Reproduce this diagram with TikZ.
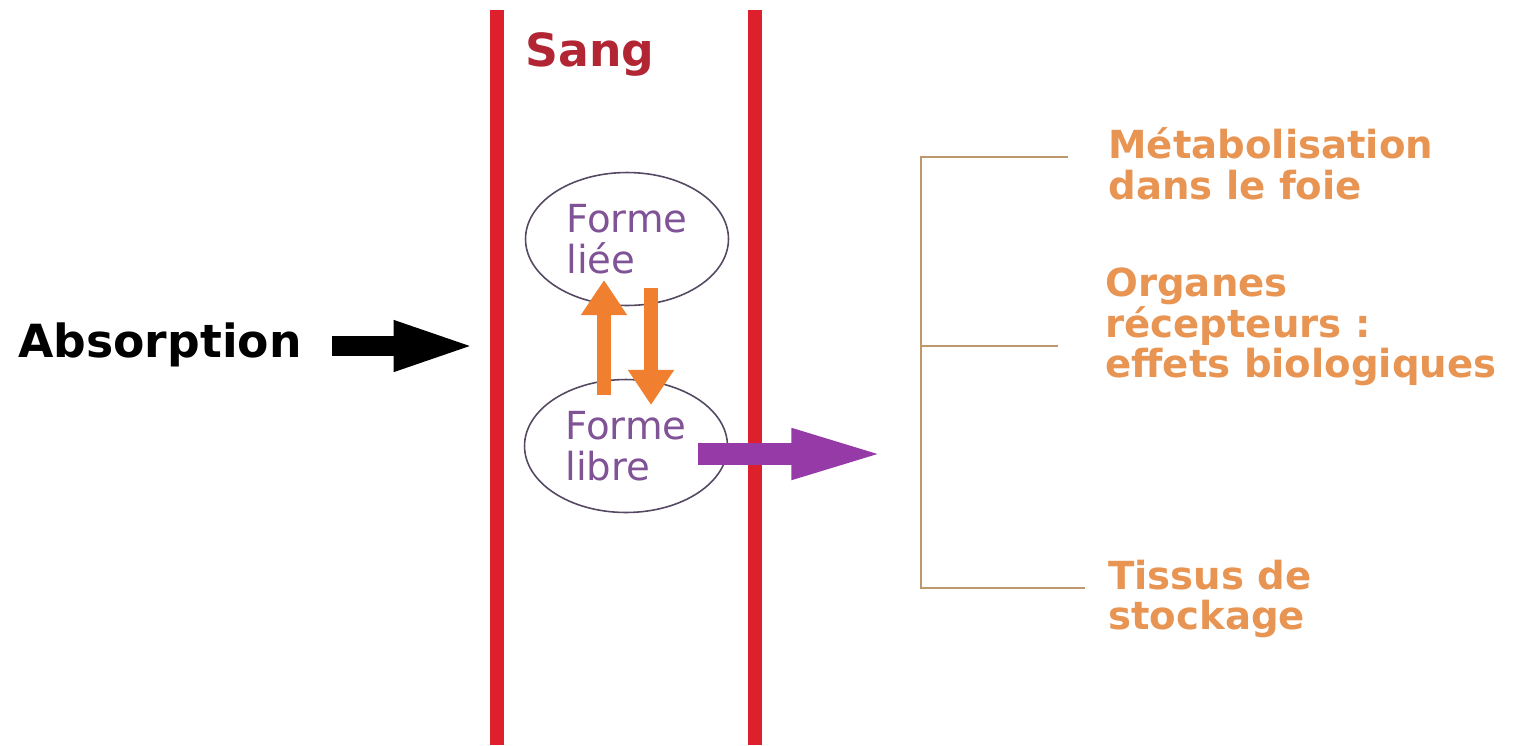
\documentclass[tikz,border=0pt]{standalone}
\usepackage{fontspec}
\setmainfont{DejaVu Sans}
\usetikzlibrary{arrows.meta, positioning, shapes.geometric}
\definecolor{bloodred}  {RGB}{222, 32, 44}
\definecolor{sangtext}  {RGB}{178, 38, 52}
\definecolor{formetext} {RGB}{128, 82,150}
\definecolor{ovalline}  {RGB}{ 85, 72, 98}
\definecolor{floworange}{RGB}{240,128, 48}
\definecolor{flowpurple}{RGB}{150, 58,168}
\definecolor{fatetext}  {RGB}{232,148, 82}
\definecolor{branch}    {RGB}{188,152,108}

\begin{document}
\begin{tikzpicture}[x=0.02cm, y=-0.02cm, >=Stealth,
  forme/.style={ellipse, draw=ovalline, line width=0.9pt, minimum width=4.06cm, minimum height=2.66cm, inner sep=0pt, align=left, text=formetext, font=\fontsize{22}{23.5}\selectfont},
  fate/.style={anchor=west, inner sep=0pt, align=left, text=fatetext, font=\fontsize{22}{23}\selectfont\bfseries},
  vessel/.style={draw=bloodred, line width=8.5pt},
  branchline/.style={draw=branch, line width=1.2pt},
  intake/.style={line width=11.5pt, draw=black, -{Triangle[width=25.5pt, length=48pt]}},
  exchange/.style={line width=8.5pt, draw=floworange, -{Triangle[width=25pt, length=20pt]}},
  release/.style={line width=12pt, draw=flowpurple, -{Triangle[width=25.5pt, length=55pt]}}
]
  \useasboundingbox (0,0) rectangle (1515,745);

  % Vessel walls
  \draw[vessel] (497,10) -- (497,745);
  \draw[vessel] (755,10) -- (755,745);
  \node[text=sangtext, font=\fontsize{26}{28}\selectfont\bfseries] (sang) at (590,54) {Sang};

  % Bound and free forms
  \node[forme] (liee) at (627,239) {Forme\\liée};
  \node[forme] (libre) at (626,446) {Forme\\libre};

  \coordinate (upfoot) at (604,395);
  \coordinate (uptip) at (604,280);
  \coordinate (downtop) at (651,288);
  \coordinate (downtip) at (651,405);
  \draw[exchange] (upfoot) -- (uptip);
  \draw[exchange] (downtop) -- (downtip);

  % Absorption
  \node[anchor=west, inner sep=0pt, font=\fontsize{26}{28}\selectfont\bfseries] (absorption) at (18,345) {Absorption};
  \coordinate (wallin) at (478,346);
  \draw[intake] ([xshift=0.6cm]absorption.east |- wallin) -- (wallin);

  % Release to tissues
  \coordinate (relstart) at (698,454);
  \coordinate (relend) at (888,454);
  \draw[release] (relstart) -- (relend);

  % Fates
  \node[fate] (foie) at (1108,164) {Métabolisation\\dans le foie};
  \node[fate] (organes) at (1105,327) {Organes\\récepteurs :\\effets biologiques};
  \node[fate] (stockage) at (1108,599) {Tissus de\\stockage};

  \coordinate (spinetop) at (921,157);
  \coordinate (spinemid) at (921,346);
  \coordinate (spinebot) at (921,588);
  \draw[branchline] (1068,157) -- (spinetop) -- (spinebot) -- (1085,588);
  \draw[branchline] (spinemid) -- (1058,346);
\end{tikzpicture}
\end{document}
